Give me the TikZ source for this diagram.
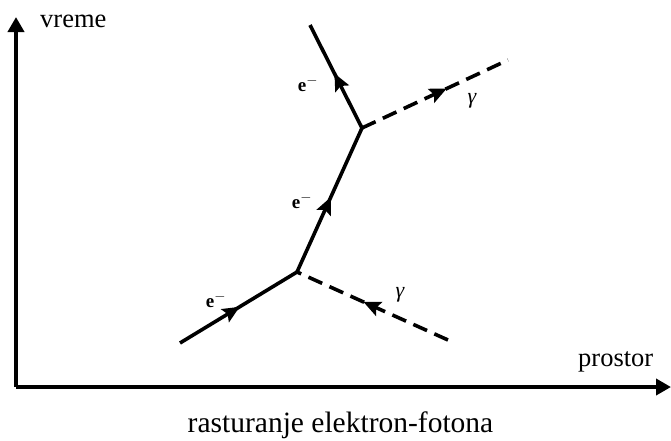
\documentclass[tikz,border=0pt]{standalone}
\usepackage{fontspec}
\setmainfont{Liberation Serif}
\usetikzlibrary{arrows.meta,decorations.markings}
\tikzset{
  fermion/.style={line width=3.6pt,
    decoration={markings,mark=at position #1 with {\arrow{Stealth[length=17pt,width=15pt,inset=3pt]}}},
    postaction={decorate}},
  photon/.style={line width=3.6pt,dash pattern=on 15pt off 8pt,
    decoration={markings,mark=at position #1 with {\arrow{Stealth[length=17pt,width=15pt,inset=3pt]}}},
    postaction={decorate}},
  axisline/.style={line width=4pt,-{Triangle[length=15pt,width=16pt]}},
  lbl/.style={font=\fontsize{19}{21}\selectfont\bfseries,inner sep=0pt},
  glbl/.style={font=\fontsize{22}{24}\selectfont\itshape,inner sep=0pt},
  axlbl/.style={font=\fontsize{26.5}{28}\selectfont,inner sep=0pt,anchor=base west},
}
\begin{document}
\begin{tikzpicture}[x=1pt,y=-1pt]
\useasboundingbox (0,0) rectangle (671,440);
\coordinate (O) at (16,387);
\coordinate (T) at (16,17);
\coordinate (R) at (671,387);
\draw[axisline] (O) -- (T);
\draw[axisline] (O) -- (R);
\node[axlbl] (vreme) at (40,27) {vreme};
\node[axlbl] (prostor) at (578,366) {prostor};
\node[font=\fontsize{29.5}{31}\selectfont,inner sep=0pt,anchor=base] (title) at (340.5,432) {rasturanje elektron-fotona};
\coordinate (ein) at (180,343);
\coordinate (v1) at (297,272);
\coordinate (v2) at (362,128);
\coordinate (eout) at (310,25);
\coordinate (gin) at (448,340);
\coordinate (gout) at (508,60);
\draw[fermion=0.51] (ein) -- (v1);
\draw[fermion=0.52] (v1) -- (v2);
\draw[fermion=0.53] (v2) -- (eout);
\draw[photon=0.58] (v2) -- (gout);
\draw[photon=0.56] (gin) -- (v1);
\node[lbl] (l1) at (216,300) {e$^{-}$};
\node[lbl] (l2) at (302,201) {e$^{-}$};
\node[lbl] (l3) at (308,84) {e$^{-}$};
\node[glbl] (g1) at (472,101) {γ};
\node[glbl] (g2) at (400,295) {γ};
\end{tikzpicture}
\end{document}
